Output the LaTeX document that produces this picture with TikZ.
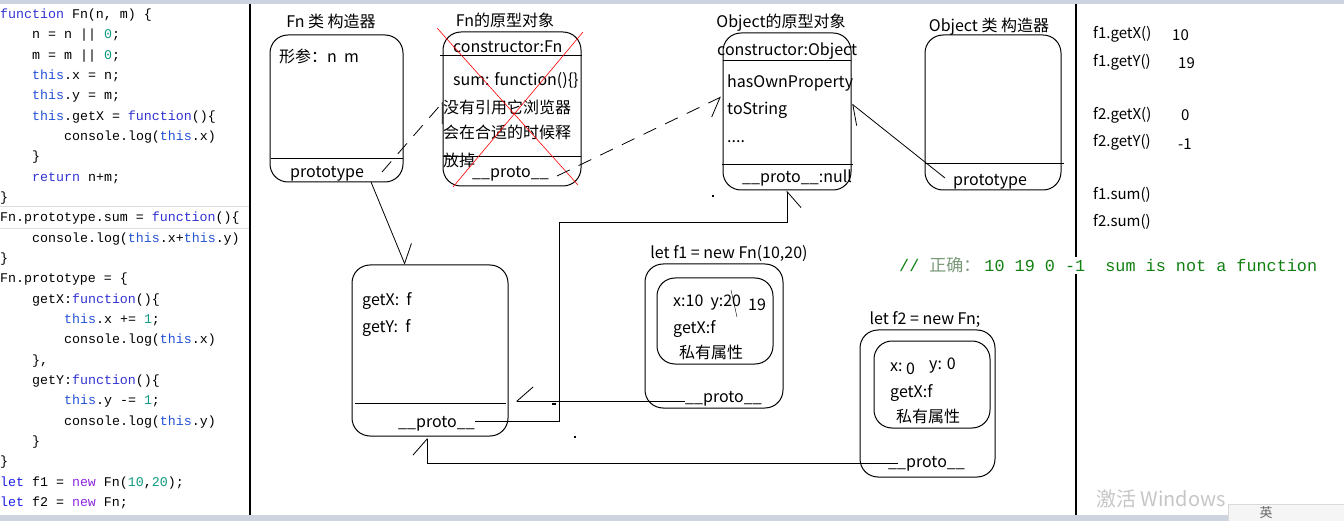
\documentclass[tikz,border=0pt]{standalone}
\usepackage{fontspec}
\setmainfont{Noto Sans CJK SC}
\setmonofont{Liberation Mono}
\newfontfamily\cjkfont{Noto Sans CJK SC}
\usetikzlibrary{arrows.meta,fit}

\definecolor{jsKey}{HTML}{3232D2}
\definecolor{jsThis}{HTML}{2452D6}
\definecolor{jsLet}{HTML}{1E1EE6}
\definecolor{jsNew}{HTML}{8C28E0}
\definecolor{jsNum}{HTML}{0E9A80}
\definecolor{cmtGreen}{HTML}{108010}
\definecolor{cmtGray}{HTML}{7A9A7A}
\definecolor{barGray}{HTML}{CDD3DF}

\newcommand\jsfn[1]{\textcolor{jsKey}{#1}}
\newcommand\jsthis[1]{\textcolor{jsThis}{#1}}
\newcommand\jslet[1]{\textcolor{jsLet}{#1}}
\newcommand\jsnew[1]{\textcolor{jsNew}{#1}}
\newcommand\jsnum[1]{\textcolor{jsNum}{#1}}

\tikzset{
  code/.style={anchor=base west, inner sep=0pt, font=\ttfamily\fontsize{13.3}{16}\selectfont},
  lbl/.style={anchor=base west, inner sep=0pt, font=\fontsize{16}{19}\selectfont},
  ttl/.style={anchor=base, inner sep=0pt, font=\fontsize{16}{19}\selectfont},
  res/.style={anchor=base west, inner sep=0pt, font=\fontsize{15}{18}\selectfont},
  box/.style={draw, rounded corners=18pt, inner sep=0pt, line width=1pt},
  arrL/.style={line width=0.8pt, -{Straight Barb[harpoon, length=16pt, width=28pt]}},
  arrR/.style={line width=0.8pt, -{Straight Barb[harpoon, swap, length=16pt, width=28pt]}},
}

\begin{document}
\begin{tikzpicture}[x=1pt, y=-1pt]
\useasboundingbox (0,0) rectangle (1344,521);

% window bars
\fill[barGray] (0,0) rectangle (1344,4);
\fill[barGray] (0,515) rectangle (1344,521);
\draw[line width=1.6pt] (250,4) -- (250,515);
\draw[line width=1.6pt] (1076,4) -- (1076,515);

% code pane
\draw[gray!25] (0,206) -- (249,206);
\draw[gray!25] (0,228) -- (249,228);
\node[code] (c1)  at (0,18.5)  {\jsfn{function} Fn(n, m) \{};
\node[code] (c2)  at (32,38.8) {n = n || \jsnum{0};};
\node[code] (c3)  at (32,59.2) {m = m || \jsnum{0};};
\node[code] (c4)  at (32,79.5) {\jsthis{this}.x = n;};
\node[code] (c5)  at (32,99.8) {\jsthis{this}.y = m;};
\node[code] (c6)  at (32,120.2) {\jsthis{this}.getX = \jsfn{function}()\{};
\node[code] (c7)  at (64,140.5) {console.log(\jsthis{this}.x)};
\node[code] (c8)  at (32,160.8) {\}};
\node[code] (c9)  at (32,181.1) {\jsfn{return} n+m;};
\node[code] (c10) at (0,201.5) {\}};
\node[code] (c11) at (0,221.8) {Fn.prototype.sum = \jsfn{function}()\{};
\node[code] (c12) at (32,242.1) {console.log(\jsthis{this}.x+\jsthis{this}.y)};
\node[code] (c13) at (0,262.5) {\}};
\node[code] (c14) at (0,282.8) {Fn.prototype = \{};
\node[code] (c15) at (32,303.1) {getX:\jsfn{function}()\{};
\node[code] (c16) at (64,323.5) {\jsthis{this}.x += \jsnum{1};};
\node[code] (c17) at (64,343.8) {console.log(\jsthis{this}.x)};
\node[code] (c18) at (32,364.1) {\},};
\node[code] (c19) at (32,384.5) {getY:\jsfn{function}()\{};
\node[code] (c20) at (64,404.8) {\jsthis{this}.y -= \jsnum{1};};
\node[code] (c21) at (64,425.1) {console.log(\jsthis{this}.y)};
\node[code] (c22) at (32,445.5) {\}};
\node[code] (c23) at (0,465.8) {\}};
\node[code] (c24) at (0,486.1) {\jslet{let} f1 = \jsnew{new} Fn(\jsnum{10},\jsnum{20});};
\node[code] (c25) at (0,506.5) {\jslet{let} f2 = \jsnew{new} Fn;};

% Fn constructor
\node[ttl] (fnCtorTitle) at (331,28) {Fn 类 构造器};
\node[box, fit={(270,35) (403,182)}] (fnCtor) {};
\draw (271,158) -- (403,158);
\node[lbl] (fnParams) at (279,63) {形参：n\ \ m};
\node[lbl] (fnPrototype) at (290,178) {prototype};

% Fn prototype object (crossed out)
\node[ttl] (fnProtoTitle) at (505,27) {Fn的原型对象};
\node[box, fit={(443,32) (581,186)}] (fnProto) {};
\draw (440,55) -- (582,55);
\draw (443,156) -- (581,156);
\node[lbl] (fnCons) at (453,53) {constructor:Fn};
\node[lbl] (fnSum) at (453,86) {sum: function()\{\}};
\node[lbl] (fnNote1) at (443,114) {没有引用它浏览器};
\node[lbl] (fnNote2) at (443,139) {会在合适的时候释};
\node[lbl] (fnNote3) at (443,167) {放掉};
\node[lbl] (fnProtoLink) at (472,178) {\_\_proto\_\_};
\draw[red, line width=0.6pt] (437,28) -- (578,185);
\draw[red, line width=0.6pt] (583,32) -- (453,187);

% Object prototype object
\node[ttl] (objProtoTitle) at (781,28) {Object的原型对象};
\node[box, fit={(723,33) (851,190)}] (objProto) {};
\draw (723,60) -- (851,60);
\draw (722,164) -- (853,164);
\node[lbl] (objCons) at (717,56) {constructor:Object};
\node[lbl] (objHas) at (727,88) {hasOwnProperty};
\node[lbl] (objStr) at (727,115) {toString};
\node[lbl] (objDots) at (727,143) {....};
\node[lbl] (objNull) at (742,183) {\_\_proto\_\_:null};

% Object constructor
\node[ttl] (objCtorTitle) at (989,32) {Object 类 构造器};
\node[box, fit={(925,35) (1061,190)}] (objCtor) {};
\draw (925,163) -- (1064,163);
\node[lbl] (objPrototype) at (953,186) {prototype};

% new Fn.prototype object
\node[box, fit={(352,265) (508,436)}] (newProto) {};
\draw (355,403) -- (506,403);
\node[lbl] (npGetX) at (362,306) {getX:\ \ f};
\node[lbl] (npGetY) at (362,333) {getY:\ \ f};
\node[lbl] (npLink) at (398,427) {\_\_proto\_\_};

% instance f1
\node[ttl] (fOneTitle) at (729,259) {let f1 = new Fn(10,20)};
\node[box, fit={(645,264) (783,408)}] (fOne) {};
\node[box, fit={(657,278) (773,364)}] (fOneOwn) {};
\node[lbl] (fOneXY) at (673,307) {x:10\ \ y:20};
\node[lbl] (fOneNew) at (748,311) {19};
\draw (731,290) -- (737,317);
\node[lbl] (fOneGet) at (673,334) {getX:f};
\node[lbl] (fOnePriv) at (679,359) {私有属性};
\node[lbl] (fOneLink) at (685,402) {\_\_proto\_\_};

% instance f2
\node[ttl] (fTwoTitle) at (925,325) {let f2 = new Fn;};
\node[box, fit={(860,330) (995,477)}] (fTwo) {};
\node[box, fit={(874,341) (990,428)}] (fTwoOwn) {};
\node[lbl] (fTwoX) at (890,371) {x:};
\node[lbl] (fTwoXv) at (906,374) {0};
\node[lbl] (fTwoY) at (929,370) {y: 0};
\node[lbl] (fTwoGet) at (890,397) {getX:f};
\node[lbl] (fTwoPriv) at (896,422) {私有属性};
\node[lbl] (fTwoLink) at (888,467) {\_\_proto\_\_};

% links
\coordinate (fnSumIn) at (443,102);
\coordinate (objHasIn) at (721,97);
\draw[arrR, dashed, dash pattern=on 14pt off 10pt] (382,172) -- (fnSumIn);
\draw[arrR, dashed, dash pattern=on 14pt off 10pt] (557,176) -- (objHasIn);
\draw[arrL] (945,178) -- (852,104);
\draw[arrL] (371,182) -- (newProto.north -| 405,0);
\draw[arrR] (npLink.east |- 0,421) -- (559,421) |- (787,222) -- (objProto.south -| 787,0);
\draw[arrR] (685,401) -- (516,401);
\draw[arrL] (898,463) -| (427,438);

% stray marks
\fill (552,403) rectangle (556,405);
\fill (574,436) rectangle (576,438);
\fill (712,195) rectangle (714,197);

% console output
\node[res] (outA) at (1093,39) {f1.getX()};
\node[res] (outAv) at (1172,41) {10};
\node[res] (outB) at (1093,67) {f1.getY()};
\node[res] (outBv) at (1178,69) {19};
\node[res] (outC) at (1093,120) {f2.getX()};
\node[res] (outCv) at (1181,121) {0};
\node[res] (outD) at (1093,147) {f2.getY()};
\node[res] (outDv) at (1178,150) {-1};
\node[res] (outE) at (1093,200) {f1.sum()};
\node[res] (outF) at (1093,227) {f2.sum()};

% comment
\node[anchor=base west, fill=white, inner sep=1pt, text=cmtGreen,
  font=\ttfamily\fontsize{16.8}{19}\selectfont] (answer) at (898,272)
  {// {\cjkfont\fontsize{17}{19}\selectfont\color{cmtGray}正确：}\hspace{4pt}10 19 0 -1\ \ sum is not a function};

% desktop watermark and tray
\node[anchor=west, inner sep=0pt, text=gray!45, font=\fontsize{20}{22}\selectfont] (watermark) at (1096,499) {激活 Windows};
\draw[gray!30, fill=gray!8] (1228,504) rectangle (1345,522);
\node[inner sep=0pt, font=\fontsize{13}{15}\selectfont, text=gray!80!black] (ime) at (1266,513) {英};
\end{tikzpicture}
\end{document}
